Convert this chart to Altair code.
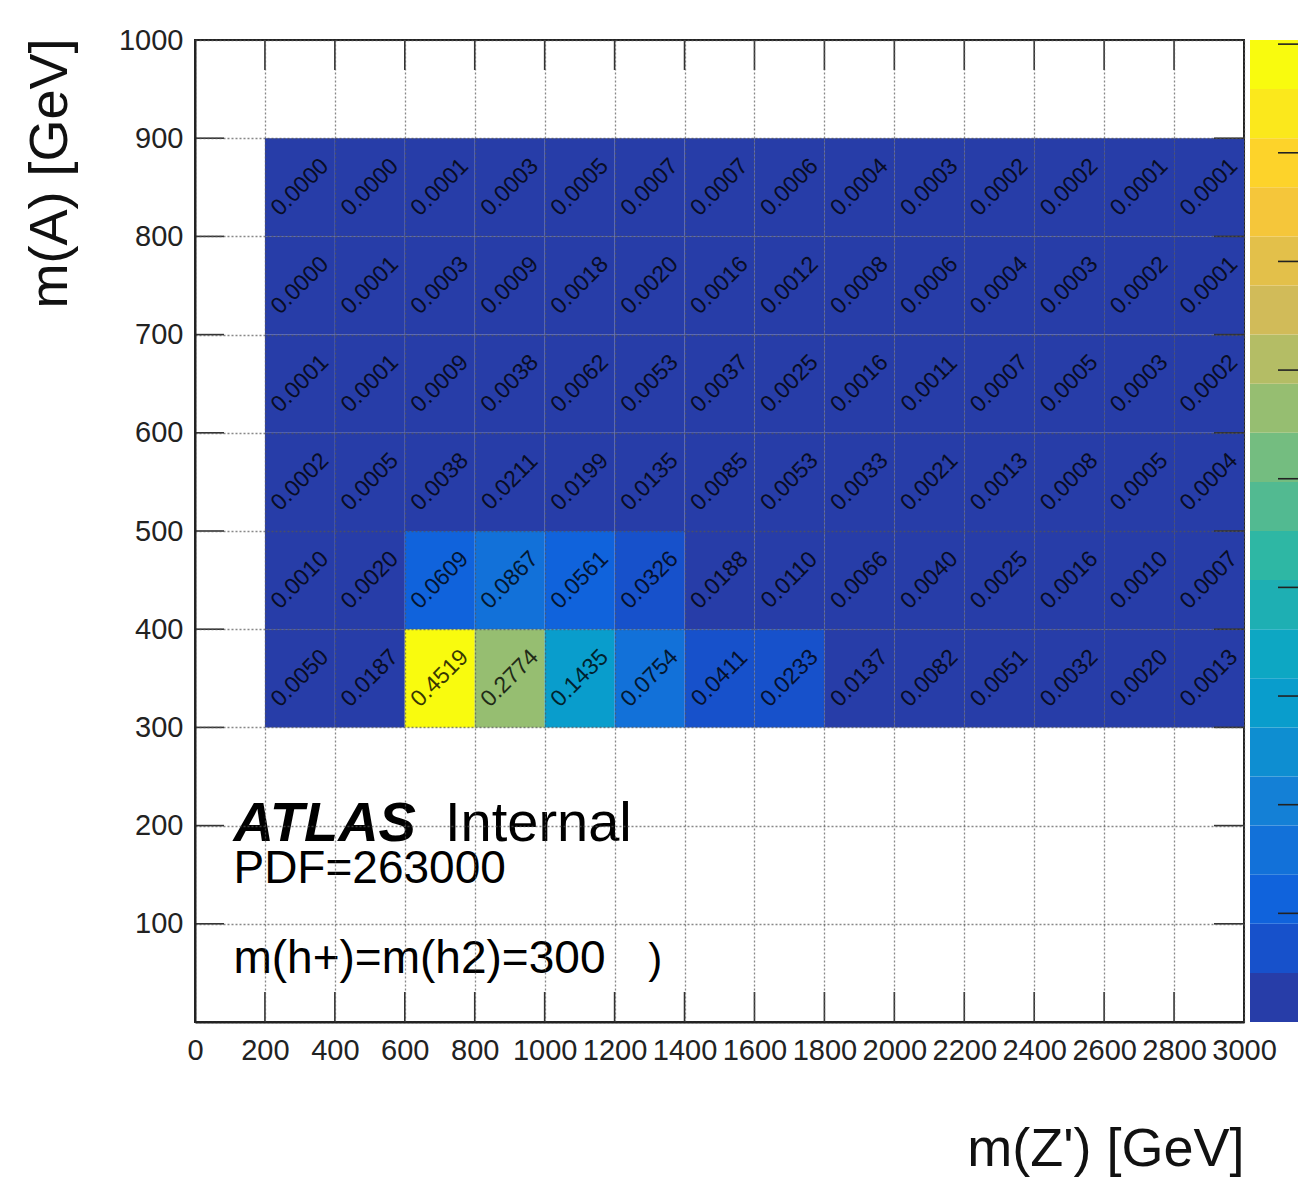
import altair as alt
import pandas as pd
import numpy as np

# ---------------- data ----------------
x_edges = [200, 400, 600, 800, 1000, 1200, 1400, 1600, 1800, 2000, 2200, 2400, 2600, 2800, 3000]
y_edges = [300, 400, 500, 600, 700, 800, 900]

# rows from bottom (m(A)=300-400) to top (800-900)
row_300 = [0.0050, 0.0187, 0.4519, 0.2774, 0.1435, 0.0754, 0.0411, 0.0233, 0.0137, 0.0082, 0.0051, 0.0032, 0.0020, 0.0013]
row_400 = [0.0010, 0.0020, 0.0609, 0.0867, 0.0561, 0.0326, 0.0188, 0.0110, 0.0066, 0.0040, 0.0025, 0.0016, 0.0010, 0.0007]
row_500 = [0.0002, 0.0005, 0.0038, 0.0211, 0.0199, 0.0135, 0.0085, 0.0053, 0.0033, 0.0021, 0.0013, 0.0008, 0.0005, 0.0004]
row_600 = [0.0001, 0.0001, 0.0009, 0.0038, 0.0062, 0.0053, 0.0037, 0.0025, 0.0016, 0.0011, 0.0007, 0.0005, 0.0003, 0.0002]
row_700 = [0.0000, 0.0001, 0.0003, 0.0009, 0.0018, 0.0020, 0.0016, 0.0012, 0.0008, 0.0006, 0.0004, 0.0003, 0.0002, 0.0001]
row_800 = [0.0000, 0.0000, 0.0001, 0.0003, 0.0005, 0.0007, 0.0007, 0.0006, 0.0004, 0.0003, 0.0002, 0.0002, 0.0001, 0.0001]
rows = [row_300, row_400, row_500, row_600, row_700, row_800]

x_ticks = [0, 200, 400, 600, 800, 1000, 1200, 1400, 1600, 1800, 2000, 2200, 2400, 2600, 2800, 3000]
y_ticks = [0, 100, 200, 300, 400, 500, 600, 700, 800, 900, 1000]
z_max = 0.4519
n_contours = 20
z_ticks = [0.05, 0.10, 0.15, 0.20, 0.25, 0.30, 0.35, 0.40, 0.45]

# ROOT kBird palette definition
bird_stops = [0.0000, 0.1250, 0.2500, 0.3750, 0.5000, 0.6250, 0.7500, 0.8750, 1.0000]
bird_red = [0.2082, 0.0592, 0.0780, 0.0232, 0.1802, 0.5301, 0.8186, 0.9956, 0.9764]
bird_green = [0.1664, 0.3599, 0.5041, 0.6419, 0.7178, 0.7492, 0.7328, 0.7862, 0.9832]
bird_blue = [0.5293, 0.8684, 0.8385, 0.7914, 0.6425, 0.4662, 0.3499, 0.1968, 0.0539]


def bird(t):
    r = np.interp(t, bird_stops, bird_red)
    g = np.interp(t, bird_stops, bird_green)
    b = np.interp(t, bird_stops, bird_blue)
    return "#%02x%02x%02x" % (int(round(r * 255)), int(round(g * 255)), int(round(b * 255)))


band_colors = [bird(int((i + 0.99) * 255 / n_contours) / 254.0) for i in range(n_contours)]

cells = []
for j, row in enumerate(rows):
    for i, v in enumerate(row):
        cells.append({
            "x": x_edges[i], "x2": x_edges[i + 1],
            "y": y_edges[j], "y2": y_edges[j + 1],
            "cx": (x_edges[i] + x_edges[i + 1]) / 2,
            "cy": (y_edges[j] + y_edges[j + 1]) / 2,
            "z": v,
        })
cells_df = pd.DataFrame(cells)

band_w = z_max / n_contours
cbar_df = pd.DataFrame({
    "lo": [i * band_w for i in range(n_contours)],
    "hi": [(i + 1) * band_w for i in range(n_contours)],
    "z": [(i + 0.5) * band_w for i in range(n_contours)],
})

xt_df = pd.DataFrame({"t": x_ticks[1:-1]})
yt_df = pd.DataFrame({"t": y_ticks[1:-1]})
zt_df = pd.DataFrame({"t": z_ticks})

ann_normal = pd.DataFrame({
    "x": [715, 110, 110, 1296],
    "y": [184, 142, 50, 50],
    "label": ["Internal", "PDF=263000", "m(h+)=m(h2)=300", ")"],
    "size": [56, 46, 46, 42],
})
ann_bold = pd.DataFrame({"x": [110], "y": [184], "label": ["ATLAS"]})

# ---------------- styling ----------------
W, H = 1049, 982
FONT = "Liberation Sans"

xs = alt.Scale(domain=[0, 3000], nice=False, zero=False)
ys = alt.Scale(domain=[0, 1000], nice=False, zero=False)
cs = alt.Scale(type="quantize", domain=[0, z_max], range=band_colors, nice=False)

grid_style = dict(grid=True, gridDash=[2, 2], gridColor="#555555", gridOpacity=0.7, gridWidth=1.3)

x_axis = alt.Axis(
    values=x_ticks, **grid_style,
    ticks=False, domain=True, domainColor="#222222", domainWidth=2,
    labelFont=FONT, labelFontSize=29, labelColor="#222222", labelPadding=14, labelOverlap=False,
    labelFlush=False, format="d",
    title="m(Z') [GeV]", titleFont=FONT, titleFontSize=54, titleFontWeight="normal", titleColor="#111111",
    titleAnchor="end", titleAlign="right", titleBaseline="alphabetic", titleX=W, titleY=143,
    zindex=1,
)
y_axis = alt.Axis(
    values=y_ticks, **grid_style,
    ticks=False, domain=True, domainColor="#222222", domainWidth=2,
    labelFont=FONT, labelFontSize=29, labelColor="#222222", labelPadding=12, labelOverlap=False,
    labelFlush=False, format="d", labelExpr="datum.value == 0 ? '' : datum.label",
    title="m(A) [GeV]", titleFont=FONT, titleFontSize=54, titleFontWeight="normal", titleColor="#111111",
    titleAnchor="end", titleAlign="right", titleBaseline="alphabetic", titleAngle=270,
    titleX=-129, titleY=-2,
    zindex=1,
)


def X(f):
    return alt.X(f, type="quantitative", scale=xs, axis=x_axis)


def Y(f):
    return alt.Y(f, type="quantitative", scale=ys, axis=y_axis)


rects = alt.Chart(cells_df).mark_rect(strokeWidth=0).encode(
    x=X("x"), x2="x2", y=Y("y"), y2="y2",
    color=alt.Color("z:Q", scale=cs, legend=None),
)

texts = alt.Chart(cells_df).mark_text(
    angle=315, font=FONT, fontSize=23, color="#000000", opacity=0.78, align="center", baseline="middle"
).encode(x=X("cx"), y=Y("cy"), text=alt.Text("z:Q", format=".4f"))

tick_style = dict(color="#333333", strokeWidth=1.6)
ticks_bottom = alt.Chart(xt_df).mark_rule(**tick_style).encode(x=X("t"), y=alt.value(H), y2=alt.value(H - 30))
ticks_top = alt.Chart(xt_df).mark_rule(**tick_style).encode(x=X("t"), y=alt.value(0), y2=alt.value(30))
ticks_left = alt.Chart(yt_df).mark_rule(**tick_style).encode(y=Y("t"), x=alt.value(0), x2=alt.value(29))
ticks_right = alt.Chart(yt_df).mark_rule(**tick_style).encode(y=Y("t"), x=alt.value(W), x2=alt.value(W - 30))

ann1 = alt.Chart(ann_normal).mark_text(font=FONT, color="#000000", align="left", baseline="alphabetic").encode(
    x=X("x"), y=Y("y"), text="label:N", size=alt.Size("size:Q", scale=None)
)
ann2 = alt.Chart(ann_bold).mark_text(
    font=FONT, fontSize=56, fontWeight="bold", fontStyle="italic", color="#000000",
    align="left", baseline="alphabetic"
).encode(x=X("x"), y=Y("y"), text="label:N")

main = alt.layer(rects, texts, ticks_bottom, ticks_top, ticks_left, ticks_right, ann1, ann2)

zs = alt.Scale(domain=[0, z_max], nice=False, zero=False)
cbar = alt.Chart(cbar_df).mark_rect(strokeWidth=0).encode(
    y=alt.Y("lo:Q", scale=zs, axis=None), y2="hi",
    x=alt.value(W + 6), x2=alt.value(W + 54),
    color=alt.Color("z:Q", scale=cs, legend=None),
)
cbar_ticks = alt.Chart(zt_df).mark_rule(color="#222222", strokeWidth=1.6).encode(
    y=alt.Y("t:Q", scale=zs, axis=None),
    x=alt.value(W + 34), x2=alt.value(W + 54),
)
cbar_layer = alt.layer(cbar, cbar_ticks)

chart = alt.layer(main, cbar_layer).resolve_scale(y="independent").properties(
    width=W, height=H,
    autosize=alt.AutoSizeParams(type="none"),
    padding={"left": 187, "top": 32, "right": 54, "bottom": 156},
    background="white",
).configure_view(stroke="#222222", strokeWidth=2)

chart.save("out.html", embed_options={"renderer": "svg", "actions": False})
